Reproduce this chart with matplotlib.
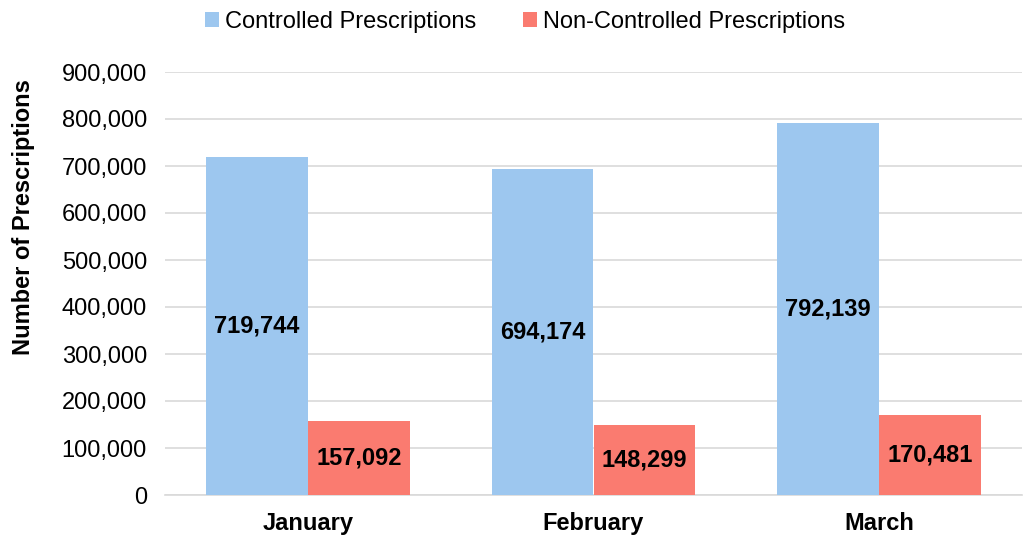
import matplotlib
matplotlib.use("Agg")
import matplotlib.pyplot as plt
import numpy as np
from matplotlib.ticker import FuncFormatter

plt.rcParams['font.family'] = ['Liberation Sans', 'DejaVu Sans']

months = ["January", "February", "March"]
controlled = [719744, 694174, 792139]
non_controlled = [157092, 148299, 170481]
series_names = ["Controlled Prescriptions", "Non-Controlled Prescriptions"]
colors = ["#9DC7EF", "#FA7B70"]

fig = plt.figure(figsize=(10.29, 5.38), dpi=100)
ax = fig.add_axes([165/1029, 1-495/538, 857/1029, 423/538])

x = np.arange(len(months))
w = 0.357
b1 = ax.bar(x - w/2, controlled, w, color=colors[0], label=series_names[0], zorder=3)
b2 = ax.bar(x + w/2, non_controlled, w, color=colors[1], label=series_names[1], zorder=3)

for bars in (b1, b2):
    for r in bars:
        h = r.get_height()
        ax.text(r.get_x() + r.get_width()/2, h/2, f"{h:,.0f}", ha='center', va='center',
                fontsize=17, fontweight='bold', color='black', zorder=4)

ax.set_xlim(-0.5, 2.5)
ax.set_ylim(0, 900000)
ax.set_yticks(np.arange(0, 900001, 100000))
ax.yaxis.set_major_formatter(FuncFormatter(lambda v, p: f"{v:,.0f}"))
ax.set_xticks(x)
ax.set_xticklabels(months, fontsize=17, fontweight='bold')
ax.tick_params(axis='y', labelsize=17, length=0, pad=13)
ax.tick_params(axis='x', length=0, pad=12.5)
ax.grid(axis='y', color='#D9D9D9', linewidth=1.2, zorder=0)
for s in ['top', 'right', 'left']:
    ax.spines[s].set_visible(False)
ax.spines['bottom'].set_color('#D9D9D9')
ax.spines['bottom'].set_linewidth(1.2)
ax.set_ylabel("Number of Prescriptions", fontsize=17, fontweight='bold')
ax.yaxis.set_label_coords(-0.152, 0.657)

leg = fig.legend(handles=[b1, b2], labels=series_names, loc='center', bbox_to_anchor=(525/1029, 1-22/538),
                 ncol=2, frameon=False, fontsize=17, handlelength=0.6, handleheight=0.6,
                 handletextpad=0.25, columnspacing=2.0)

fig.savefig("out.png", dpi=100)
